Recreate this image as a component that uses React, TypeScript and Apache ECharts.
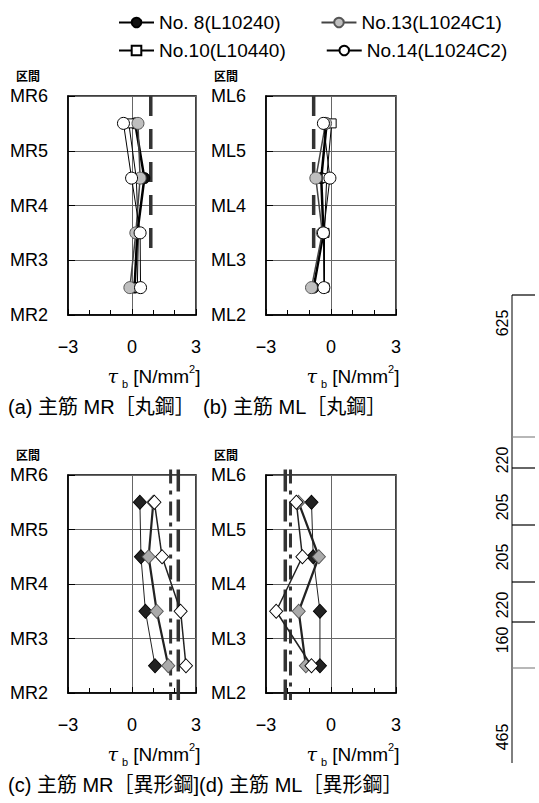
import React, { useEffect, useRef } from "react";
import * as echarts from "echarts";

// ---- data ----
const sectionMid = [5.5, 4.5, 3.5, 2.5];
const mrSections = ["MR2", "MR3", "MR4", "MR5", "MR6"];
const mlSections = ["ML2", "ML3", "ML4", "ML5", "ML6"];
const xTickValues = [-3, 0, 3];

const seriesNames = ["No. 8(L10240)", "No.10(L10440)", "No.13(L1024C1)", "No.14(L1024C2)"];

// (a) 主筋 MR ［丸鋼］
const no8MR = [0.15, 0.58, 0.25, 0.12];
const no10MR = [-0.15, 0.2, 0.3, 0.25];
const no13MR = [0.28, 0.38, 0.18, -0.1];
const no14MR = [-0.4, -0.02, 0.38, 0.4];

// (b) 主筋 ML ［丸鋼］
const no8ML = [-0.2, -0.45, -0.35, -0.8];
const no10ML = [0.03, -0.2, -0.3, -0.3];
const no13ML = [-0.25, -0.7, -0.4, -0.9];
const no14ML = [-0.35, -0.05, -0.35, -0.33];

// (c) 主筋 MR ［異形鋼］
const blackMRd = [0.37, 0.42, 0.63, 1.08];
const greyMRd = [1.0, 0.78, 1.16, 1.7];
const whiteMRd = [1.05, 1.41, 2.28, 2.53];

// (d) 主筋 ML ［異形鋼］
const blackMLd = [-0.9, -0.82, -0.51, -0.51];
const greyMLd = [-1.5, -0.56, -1.49, -1.16];
const whiteMLd = [-1.6, -1.32, -2.53, -0.9];

// reference (dashed) lines
const roundLimit = [0.88, -0.8];
const roundLimitEnd = 3.22;
const deformedDashDot = [1.81, -1.87];
const deformedLongDash = [2.17, -2.11];
const deformedSpan = [6.1, 1.87];

// dimension bar on the right
const dimLabels = ["625", "220", "205", "205", "220", "160", "465"];

const captionsTop = ["(a) 主筋 MR［丸鋼］", "(b) 主筋 ML［丸鋼］"];
const captionBottom = "(c) 主筋 MR［異形鋼](d) 主筋 ML［異形鋼］";

const FONT = "'Liberation Sans', Arial, 'Noto Sans CJK JP', sans-serif";
const CJK = "'Liberation Sans', 'Noto Sans CJK JP', sans-serif";

const fmtX = (v: number) => (v < 0 ? "\u2212" + Math.abs(v) : String(v));

function mkX(i: number) {
  return {
    type: "value",
    gridIndex: i,
    min: xTickValues[0],
    max: xTickValues[2],
    interval: 3,
    axisLine: { show: true, onZero: false, lineStyle: { color: "#000", width: 1.5 } },
    axisTick: { show: true, inside: true, length: 6, lineStyle: { color: "#000" } },
    minorTick: { show: true, splitNumber: 3, length: 5, lineStyle: { color: "#000" } },
    axisLabel: { margin: 23, color: "#000", fontSize: 18, fontFamily: FONT, formatter: fmtX },
    splitLine: { show: true, lineStyle: { color: "#666", width: 1 } },
    name: "{t|τ}{b|b}{n|[N/mm}{p|2}{n|]}",
    nameLocation: "middle",
    nameGap: 48,
    nameTextStyle: {
      padding: [0, 0, 0, 44],
      rich: {
        t: { fontSize: 19, fontFamily: "'DejaVu Serif', serif", fontStyle: "italic", color: "#000", lineHeight: 26 },
        b: { fontSize: 11, fontFamily: FONT, color: "#000", verticalAlign: "bottom", lineHeight: 14, padding: [0, 5, 0, 4] },
        n: { fontSize: 19, fontFamily: FONT, color: "#000", lineHeight: 26 },
        p: { fontSize: 11, fontFamily: FONT, color: "#000", verticalAlign: "top", lineHeight: 14 },
      },
    },
  };
}

function mkY(i: number, labels: string[]) {
  return {
    type: "value",
    gridIndex: i,
    min: 2,
    max: 6,
    interval: 1,
    axisLine: { show: true, onZero: false, lineStyle: { color: "#000", width: 1.5 } },
    axisTick: { show: true, inside: true, length: 7, lineStyle: { color: "#000" } },
    axisLabel: { margin: 20, color: "#000", fontSize: 18, lineHeight: 18, fontFamily: FONT, formatter: (v: number) => labels[v - 2] },
    splitLine: { show: true, lineStyle: { color: "#666", width: 1 } },
    name: "区間",
    nameLocation: "end",
    nameGap: 13,
    nameTextStyle: {
      fontSize: 12,
      lineHeight: 12,
      fontWeight: "bold",
      color: "#000",
      fontFamily: CJK,
      align: "right",
      verticalAlign: "bottom",
      padding: [0, 28, 0, 0],
    },
  };
}

const pts = (xs: number[]) => xs.map((x, i) => [x, sectionMid[i]]);

const circleStyles = [
  { symbol: "circle", size: 11, fill: "#111", border: "#000", lw: 2.5, lc: "#000" },
  { symbol: "rect", size: 9, fill: "#fff", border: "#000", lw: 1, lc: "#000" },
  { symbol: "circle", size: 12, fill: "#bfbfbf", border: "#555", lw: 1.5, lc: "#444" },
  { symbol: "circle", size: 12, fill: "#fff", border: "#000", lw: 1, lc: "#000" },
];

const diamondStyles = [
  { fill: "#222", border: "#000", lw: 1, lc: "#222" },
  { fill: "#aaa", border: "#555", lw: 2.2, lc: "#222" },
  { fill: "#fff", border: "#000", lw: 1.5, lc: "#222" },
];

function circleSeries(panel: number, sets: number[][]) {
  return sets.map((xs, k) => {
    const s = circleStyles[k];
    return {
      type: "line",
      name: seriesNames[k],
      xAxisIndex: panel,
      yAxisIndex: panel,
      data: pts(xs),
      symbol: s.symbol,
      symbolSize: s.size,
      showAllSymbol: true,
      z: 3 + k,
      itemStyle: { color: s.fill, borderColor: s.border, borderWidth: 1 },
      lineStyle: { color: s.lc, width: s.lw },
      emphasis: { disabled: true },
    };
  });
}

function diamondSeries(panel: number, sets: number[][], tag: string) {
  return sets.map((xs, k) => {
    const s = diamondStyles[k];
    return {
      type: "line",
      name: tag + (k + 1),
      xAxisIndex: panel,
      yAxisIndex: panel,
      data: pts(xs),
      symbol: "diamond",
      symbolSize: [13, 14],
      z: 3 + k,
      itemStyle: { color: s.fill, borderColor: s.border, borderWidth: 1 },
      lineStyle: { color: s.lc, width: s.lw },
      emphasis: { disabled: true },
    };
  });
}

function refLine(panel: number, x: number, y0: number, y1: number, dash: number[], width: number) {
  return {
    type: "line",
    name: "ref" + panel + "_" + x,
    xAxisIndex: panel,
    yAxisIndex: panel,
    data: [
      [x, y0],
      [x, y1],
    ],
    symbol: "none",
    clip: false,
    z: 1,
    silent: true,
    lineStyle: { color: "#333", width, type: dash },
    emphasis: { disabled: true },
  };
}

export default function App() {
  const ref = useRef<HTMLDivElement>(null);
  useEffect(() => {
    if (!ref.current) return;
    const chart = echarts.init(ref.current, null, { renderer: "svg" });

    const grids = [
      { left: 68, top: 96, width: 128, height: 219 },
      { left: 266, top: 96, width: 130, height: 219 },
      { left: 68, top: 475, width: 128, height: 218 },
      { left: 266, top: 475, width: 130, height: 218 },
    ].map((g) => ({
      ...g,
      show: true,
      borderColor: "#000",
      borderWidth: 1.5,
      backgroundColor: "transparent",
      containLabel: false,
      outerBoundsMode: "none",
    }));

    const dimTicks = [295, 437, 468, 525, 582, 622, 668];
    const dimTickColors = ["#000", "#888", "#000", "#000", "#000", "#000", "#888"];
    const dimLabelY = [323, 460, 507, 557, 605, 640, 737];

    const graphics: any[] = [
      { type: "line", shape: { x1: 512, y1: 295, x2: 512, y2: 763 }, style: { stroke: "#000", lineWidth: 1 } },
      ...dimTicks.map((y, i) => ({
        type: "line",
        shape: { x1: 512, y1: y, x2: 535, y2: y },
        style: { stroke: dimTickColors[i], lineWidth: 1.2 },
      })),
      ...dimLabels.map((t, i) => ({
        type: "text",
        x: 502,
        y: dimLabelY[i],
        rotation: Math.PI / 2,
        style: {
          text: t,
          fill: "#000",
          font: "16px " + FONT,
          align: "center",
          verticalAlign: "middle",
          textAlign: "center",
          textVerticalAlign: "middle",
        },
      })),
      {
        type: "text",
        x: 8,
        y: 407,
        style: { text: captionsTop[0], fill: "#000", font: "20px " + CJK, verticalAlign: "middle", textVerticalAlign: "middle" },
      },
      {
        type: "text",
        x: 203,
        y: 407,
        style: { text: captionsTop[1], fill: "#000", font: "20px " + CJK, verticalAlign: "middle", textVerticalAlign: "middle" },
      },
      {
        type: "text",
        x: 8,
        y: 785,
        style: { text: captionBottom, fill: "#000", font: "20px " + CJK, verticalAlign: "middle", textVerticalAlign: "middle" },
      },
    ];

    const legendBase = {
      left: 118,
      padding: 0,
      itemWidth: 35,
      itemHeight: 12,
      itemGap: 40,
      selectedMode: false,
      textStyle: { fontSize: 19, color: "#000", fontFamily: FONT },
    };

    const option: any = {
      animation: false,
      backgroundColor: "#fff",
      legend: [
        { ...legendBase, top: 13, data: [seriesNames[0], seriesNames[2]] },
        { ...legendBase, top: 41, data: [seriesNames[1], seriesNames[3]] },
      ],
      grid: grids,
      xAxis: [0, 1, 2, 3].map(mkX),
      yAxis: [mkY(0, mrSections), mkY(1, mlSections), mkY(2, mrSections), mkY(3, mlSections)],
      series: [
        refLine(0, roundLimit[0], 6, roundLimitEnd, [20, 13], 3.5),
        refLine(1, roundLimit[1], 6, roundLimitEnd, [20, 13], 3.5),
        refLine(2, deformedDashDot[0], deformedSpan[0], deformedSpan[1], [14, 7, 4, 7], 3),
        refLine(2, deformedLongDash[0], deformedSpan[0], deformedSpan[1], [22, 8], 3.5),
        refLine(3, deformedDashDot[1], deformedSpan[0], deformedSpan[1], [14, 7, 4, 7], 3),
        refLine(3, deformedLongDash[1], deformedSpan[0], deformedSpan[1], [22, 8], 3.5),
        ...circleSeries(0, [no8MR, no10MR, no13MR, no14MR]),
        ...circleSeries(1, [no8ML, no10ML, no13ML, no14ML]),
        ...diamondSeries(2, [blackMRd, greyMRd, whiteMRd], "MR異形"),
        ...diamondSeries(3, [blackMLd, greyMLd, whiteMLd], "ML異形"),
      ],
      graphic: graphics,
    };
    chart.setOption(option);
    return () => chart.dispose();
  }, []);

  return (
    <div
      ref={ref}
      style={{ position: "fixed", left: 0, top: 0, width: 539, height: 803, background: "#fff" }}
    />
  );
}
